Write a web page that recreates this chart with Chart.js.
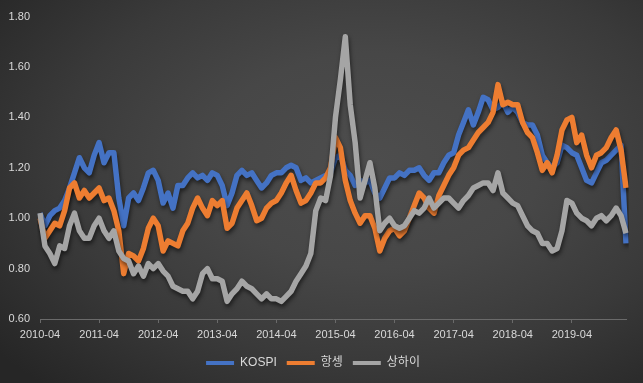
<!DOCTYPE html>
<html>
<head>
<meta charset="utf-8">
<script src="https://cdn.jsdelivr.net/npm/chart.js@4/dist/chart.umd.min.js"></script>
<style>
    html, body { margin: 0; padding: 0; background: #333; }
    #wrap {
        width: 643px;
        height: 383px;
        position: relative;
        background: radial-gradient(ellipse 75% 80% at 58% 42%, #4d4d4d 0%, #474747 35%, #3a3a3a 65%, #262626 100%);
    }
    canvas { display: block; }
</style>
</head>
<body>
<div id="wrap"><canvas id="chart" width="643" height="383"></canvas></div>
<script>
// monthly points, 2010-04 .. 2020-03
const months = [];
for (let i = 0; i < 120; i += 1) {
    const y = 2010 + Math.floor((i + 3) / 12);
    const m = ((i + 3) % 12) + 1;
    months.push(y + '-' + String(m).padStart(2, '0'));
}

const kospi = [
    1.02, 0.97, 1.01, 1.03, 1.04, 1.07, 1.12, 1.18, 1.24, 1.20, 1.18, 1.25,
    1.30, 1.22, 1.26, 1.26, 1.08, 0.97, 1.08, 1.10, 1.07, 1.12, 1.18, 1.19,
    1.15, 1.06, 1.10, 1.04, 1.13, 1.13, 1.16, 1.18, 1.16, 1.17, 1.15, 1.18,
    1.17, 1.13, 1.05, 1.10, 1.17, 1.19, 1.17, 1.18, 1.15, 1.12, 1.14, 1.17,
    1.18, 1.18, 1.20, 1.21, 1.20, 1.15, 1.16, 1.14, 1.15, 1.16, 1.17, 1.18,
    1.24, 1.25, 1.19, 1.17, 1.13, 1.15, 1.14, 1.15, 1.10, 1.08, 1.12, 1.16,
    1.16, 1.18, 1.17, 1.19, 1.19, 1.20, 1.17, 1.15, 1.18, 1.18, 1.22, 1.25,
    1.26, 1.33, 1.38, 1.43, 1.37, 1.42, 1.48, 1.47, 1.43, 1.44, 1.46, 1.42,
    1.44, 1.42, 1.38, 1.37, 1.37, 1.33, 1.25, 1.22, 1.20, 1.22, 1.29, 1.28,
    1.26, 1.25, 1.20, 1.15, 1.14, 1.18, 1.22, 1.23, 1.25, 1.27, 1.29, 0.90
];

const hangSeng = [
    1.00, 0.92, 0.95, 0.98, 0.97, 1.03, 1.12, 1.14, 1.08, 1.11, 1.08, 1.10,
    1.12, 1.07, 1.08, 1.03, 0.95, 0.78, 0.86, 0.85, 0.83, 0.88, 0.96, 1.00,
    0.97, 0.87, 0.91, 0.90, 0.89, 0.95, 0.98, 1.04, 1.08, 1.04, 1.01, 1.07,
    1.05, 1.07, 0.96, 0.98, 1.04, 1.07, 1.10, 1.05, 0.99, 1.00, 1.04, 1.06,
    1.07, 1.10, 1.14, 1.17, 1.11, 1.06, 1.07, 1.10, 1.14, 1.14, 1.16, 1.20,
    1.32, 1.28, 1.15, 1.07, 1.02, 0.98, 1.01, 1.01, 0.96, 0.87, 0.92, 0.95,
    0.96, 0.93, 0.95, 1.00, 1.05, 1.10, 1.08, 1.04, 1.02, 1.09, 1.13, 1.17,
    1.20, 1.25, 1.27, 1.28, 1.31, 1.34, 1.36, 1.38, 1.42, 1.53, 1.45, 1.46,
    1.45, 1.45, 1.38, 1.34, 1.32, 1.26, 1.19, 1.22, 1.18, 1.25, 1.35, 1.39,
    1.40, 1.30, 1.33, 1.25, 1.20, 1.25, 1.26, 1.28, 1.32, 1.35, 1.27, 1.12
];

const shanghai = [
    1.02, 0.89, 0.86, 0.82, 0.89, 0.88, 0.97, 1.02, 0.95, 0.92, 0.92, 0.97,
    1.00, 0.95, 0.92, 0.95, 0.87, 0.84, 0.83, 0.78, 0.81, 0.77, 0.82, 0.80,
    0.82, 0.79, 0.77, 0.73, 0.72, 0.71, 0.71, 0.68, 0.71, 0.78, 0.80, 0.76,
    0.76, 0.75, 0.67, 0.70, 0.72, 0.75, 0.73, 0.72, 0.70, 0.68, 0.70, 0.68,
    0.68, 0.67, 0.69, 0.71, 0.75, 0.78, 0.81, 0.86, 1.03, 1.08, 1.07, 1.17,
    1.40, 1.55, 1.72, 1.45, 1.30, 1.08, 1.15, 1.22, 1.12, 0.95, 0.98, 1.00,
    0.97, 0.96, 0.97, 1.00, 1.03, 1.02, 1.04, 1.08, 1.04, 1.06, 1.08, 1.08,
    1.06, 1.04, 1.07, 1.09, 1.12, 1.13, 1.14, 1.14, 1.11, 1.18, 1.10, 1.08,
    1.06, 1.05, 1.01, 0.97, 0.95, 0.94, 0.90, 0.90, 0.87, 0.88, 0.95, 1.07,
    1.06, 1.02, 1.00, 0.99, 0.97, 1.00, 1.01, 0.99, 1.01, 1.04, 1.01, 0.94
];

const seriesNames = ['KOSPI', '항셍', '상하이'];
const seriesColors = ['#4472C4', '#ED7D31', '#A5A5A5'];
const yTicks = [0.6, 0.8, 1.0, 1.2, 1.4, 1.6, 1.8];

const textColor = '#d9d9d9';
const fontFamily = "'Liberation Sans', Arial, 'Noto Sans CJK KR', sans-serif";

// Excel-like drop shadow under each line
const lineShadow = {
    id: 'lineShadow',
    beforeDatasetDraw(chart) {
        const ctx = chart.ctx;
        ctx.save();
        ctx.shadowColor = 'rgba(0, 0, 0, 0.55)';
        ctx.shadowBlur = 4;
        ctx.shadowOffsetX = 1;
        ctx.shadowOffsetY = 3;
    },
    afterDatasetDraw(chart) {
        chart.ctx.restore();
    }
};

const seriesData = [kospi, hangSeng, shanghai];
const datasets = seriesData.map((values, i) => ({
    label: seriesNames[i],
    data: values,
    borderColor: seriesColors[i],
    backgroundColor: seriesColors[i],
    borderWidth: 5.5,
    pointRadius: 0,
    tension: 0,
    borderJoinStyle: 'round',
    order: 3 - i
}));

new Chart(document.getElementById('chart'), {
    type: 'line',
    data: { labels: months, datasets: datasets },
    plugins: [lineShadow],
    options: {
        responsive: false,
        animation: false,
        layout: { padding: { top: 16, right: 17, bottom: 4, left: 0 } },
        plugins: {
            tooltip: { enabled: false },
            legend: {
                position: 'bottom',
                labels: {
                    color: textColor,
                    font: { family: fontFamily, size: 12 },
                    boxWidth: 28,
                    boxHeight: 4,
                    padding: 10,
                    generateLabels: (chart) => chart.data.datasets.map((ds, i) => ({
                        text: ds.label,
                        fillStyle: ds.borderColor,
                        strokeStyle: ds.borderColor,
                        lineWidth: 0,
                        fontColor: textColor,
                        hidden: false,
                        datasetIndex: i
                    }))
                }
            }
        },
        scales: {
            x: {
                type: 'category',
                offset: false,
                afterFit: (scale) => { scale.height = 28; },
                border: { display: true, color: '#6a6a6a', width: 1 },
                grid: {
                    drawOnChartArea: false,
                    drawTicks: true,
                    tickLength: 4,
                    color: (c) => (c.index % 12 === 0 ? '#6a6a6a' : 'rgba(0,0,0,0)')
                },
                ticks: {
                    autoSkip: false,
                    maxRotation: 0,
                    minRotation: 0,
                    padding: 5,
                    color: textColor,
                    font: { family: fontFamily, size: 11 },
                    callback: function (value, index) {
                        const label = months[index];
                        return label.endsWith('-04') ? label : '';
                    }
                }
            },
            y: {
                min: 0.6,
                max: 1.8,
                afterFit: (scale) => { scale.width = 40; },
                afterBuildTicks: (scale) => { scale.ticks = yTicks.map(v => ({ value: v })); },
                border: { display: false },
                grid: { display: false, drawTicks: false },
                ticks: {
                    padding: 10,
                    color: textColor,
                    font: { family: fontFamily, size: 11 },
                    callback: (v) => Number(v).toFixed(2)
                }
            }
        }
    }
});
</script>
</body>
</html>
